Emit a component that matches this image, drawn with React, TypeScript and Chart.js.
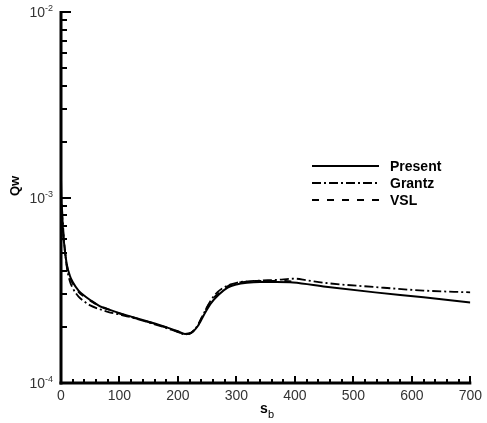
import React, { useEffect, useRef } from 'react';
import { Chart, registerables } from 'chart.js';

Chart.register(...registerables);

// ---- data (s_b, Qw) ----
const presentS = [0, 1, 3, 6, 10, 15, 20, 30, 40, 50, 66, 80, 100, 120, 150, 180, 200, 212, 222, 234, 245, 256, 270, 285, 300, 318, 340, 369, 397, 453, 537, 620, 700];
const presentQ = [12.5e-4, 9.0e-4, 6.8e-4, 5.4e-4, 4.35e-4, 3.8e-4, 3.5e-4, 3.15e-4, 2.95e-4, 2.8e-4, 2.6e-4, 2.5e-4, 2.38e-4, 2.28e-4, 2.14e-4, 2.0e-4, 1.9e-4, 1.84e-4, 1.86e-4, 2.03e-4, 2.35e-4, 2.68e-4, 3.0e-4, 3.27e-4, 3.4e-4, 3.47e-4, 3.5e-4, 3.5e-4, 3.48e-4, 3.3e-4, 3.08e-4, 2.9e-4, 2.72e-4];

const grantzS = [2, 5, 10, 15, 20, 30, 40, 50, 66, 80, 100, 120, 150, 180, 200, 212, 222, 234, 245, 256, 268, 285, 300, 330, 370, 400, 420, 453, 537, 620, 700];
const grantzQ = [8.5e-4, 6.0e-4, 4.2e-4, 3.55e-4, 3.25e-4, 2.92e-4, 2.75e-4, 2.62e-4, 2.5e-4, 2.42e-4, 2.34e-4, 2.26e-4, 2.12e-4, 1.98e-4, 1.88e-4, 1.83e-4, 1.86e-4, 2.05e-4, 2.4e-4, 2.78e-4, 3.1e-4, 3.35e-4, 3.47e-4, 3.55e-4, 3.6e-4, 3.65e-4, 3.58e-4, 3.46e-4, 3.29e-4, 3.15e-4, 3.08e-4];

const vslS = [1, 3, 6, 10, 15, 20, 30, 40, 50, 66, 80, 100, 120, 150, 180, 200, 212, 222, 234, 245, 256, 270, 285, 300, 318, 340, 369, 400];
const vslQ = [9.2e-4, 6.9e-4, 5.4e-4, 4.3e-4, 3.75e-4, 3.45e-4, 3.1e-4, 2.92e-4, 2.78e-4, 2.6e-4, 2.5e-4, 2.37e-4, 2.27e-4, 2.13e-4, 1.99e-4, 1.89e-4, 1.83e-4, 1.86e-4, 2.05e-4, 2.4e-4, 2.75e-4, 3.05e-4, 3.32e-4, 3.45e-4, 3.52e-4, 3.55e-4, 3.55e-4, 3.52e-4];

const seriesLabels = ['Present', 'Grantz', 'VSL'];
const xTickValues = [0, 100, 200, 300, 400, 500, 600, 700];
const yTickValues = [1e-4, 1e-3, 1e-2];
const yTickBase = '10';
const yTickExponents = ['-4', '-3', '-2'];

const FONT = "Arial, 'Liberation Sans', sans-serif";

const toPts = (xs: number[], ys: number[]) => xs.map((s, i) => ({ x: s, y: ys[i] }));

const decorPlugin = {
  id: 'decor',
  afterDraw(chart: any) {
    const { ctx, chartArea, scales } = chart;
    const { left, right, top, bottom } = chartArea;
    const xs = scales.x;
    const ys = scales.y;
    ctx.save();
    ctx.strokeStyle = '#000';
    ctx.fillStyle = '#000';
    ctx.lineCap = 'butt';

    // y ticks (inward)
    ctx.lineWidth = 2;
    for (let d = -4; d <= -2; d++) {
      for (let m = 1; m < 10; m++) {
        if (d === -2 && m > 1) break;
        const v = m * Math.pow(10, d);
        const py = Math.round(ys.getPixelForValue(v));
        const len = m === 1 ? 10 : 6;
        ctx.beginPath();
        ctx.moveTo(left, py);
        ctx.lineTo(left + len, py);
        ctx.stroke();
      }
    }
    // x ticks (inward)
    for (let s = 0; s <= 700; s += 20) {
      const px = Math.round(xs.getPixelForValue(s));
      const len = s % 100 === 0 ? 7 : 4;
      ctx.beginPath();
      ctx.moveTo(px, bottom);
      ctx.lineTo(px, bottom - len);
      ctx.stroke();
    }
    // axis lines
    ctx.lineWidth = 3;
    ctx.beginPath();
    ctx.moveTo(left, top - 1);
    ctx.lineTo(left, bottom + 1.5);
    ctx.stroke();
    ctx.beginPath();
    ctx.moveTo(left - 1.5, bottom);
    ctx.lineTo(right + 1, bottom);
    ctx.stroke();

    // y tick labels: 10 with superscript exponent
    ctx.fillStyle = '#333';
    yTickValues.forEach((v, i) => {
      const py = ys.getPixelForValue(v);
      const exp = yTickExponents[i];
      ctx.font = `9px ${FONT}`;
      const ew = ctx.measureText(exp).width;
      ctx.textAlign = 'right';
      ctx.textBaseline = 'alphabetic';
      const rx = left - 8;
      ctx.fillText(exp, rx, py - 1);
      ctx.font = `14px ${FONT}`;
      ctx.fillText(yTickBase, rx - ew, py + 5);
    });
    ctx.fillStyle = '#000';

    // y title "Qw"
    ctx.save();
    ctx.translate(19, 186);
    ctx.rotate(-Math.PI / 2);
    ctx.font = `bold 13px ${FONT}`;
    ctx.textAlign = 'center';
    ctx.textBaseline = 'alphabetic';
    ctx.fillText('Qw', 0, 0);
    ctx.restore();

    // x title "s_b"
    ctx.font = `bold 14px ${FONT}`;
    ctx.textAlign = 'left';
    ctx.textBaseline = 'alphabetic';
    ctx.fillText('s', 260, 413);
    ctx.font = `11px ${FONT}`;
    ctx.fillText('b', 268, 418);

    // legend
    const dsets = chart.data.datasets;
    const rowsY = [166, 183, 200];
    dsets.forEach((ds: any, i: number) => {
      ctx.lineWidth = 2;
      ctx.setLineDash(ds.borderDash || []);
      ctx.beginPath();
      ctx.moveTo(312, rowsY[i]);
      ctx.lineTo(379, rowsY[i]);
      ctx.stroke();
      ctx.setLineDash([]);
      ctx.font = `bold 14px ${FONT}`;
      ctx.textBaseline = 'middle';
      ctx.fillText(ds.label, 390, rowsY[i] + 1);
    });
    ctx.restore();
  },
};

export default function App() {
  const ref = useRef<HTMLCanvasElement | null>(null);
  useEffect(() => {
    document.body.style.margin = '0';
    const canvas = ref.current;
    if (!canvas) return;
    const chart = new Chart(canvas, {
      type: 'scatter',
      data: {
        datasets: [
          {
            label: seriesLabels[0],
            data: toPts(presentS, presentQ),
            showLine: true,
            borderColor: '#000',
            borderWidth: 2,
            pointRadius: 0,
            cubicInterpolationMode: 'monotone',
          },
          {
            label: seriesLabels[1],
            data: toPts(grantzS, grantzQ),
            showLine: true,
            borderColor: '#000',
            borderWidth: 1.8,
            borderDash: [9, 3, 2, 3],
            pointRadius: 0,
            cubicInterpolationMode: 'monotone',
          },
          {
            label: seriesLabels[2],
            data: toPts(vslS, vslQ),
            showLine: true,
            borderColor: '#000',
            borderWidth: 2,
            borderDash: [7, 8],
            pointRadius: 0,
            cubicInterpolationMode: 'monotone',
          },
        ],
      },
      options: {
        responsive: false,
        animation: false,
        devicePixelRatio: 1,
        layout: { padding: { left: 0, right: 10, top: 12, bottom: 0 } },
        plugins: { legend: { display: false }, tooltip: { enabled: false } },
        scales: {
          x: {
            type: 'linear',
            min: 0,
            max: 700,
            grid: { display: false, drawTicks: false },
            border: { display: false },
            afterBuildTicks: (s: any) => {
              s.ticks = xTickValues.map((v) => ({ value: v }));
            },
            afterFit: (s: any) => {
              s.height = 40;
            },
            ticks: {
              padding: 5,
              color: '#333',
              font: { family: FONT, size: 14 },
              maxRotation: 0,
              callback: (v: any) => String(v),
            },
          },
          y: {
            type: 'logarithmic',
            min: 1e-4,
            max: 1e-2,
            grid: { display: false, drawTicks: false },
            border: { display: false },
            afterBuildTicks: (s: any) => {
              s.ticks = yTickValues.map((v) => ({ value: v }));
            },
            afterFit: (s: any) => {
              s.width = 61;
            },
            ticks: { display: false },
          },
        },
      },
      plugins: [decorPlugin],
    } as any);
    return () => chart.destroy();
  }, []);
  return (
    <div style={{ position: 'absolute', left: 0, top: 0, width: 487, height: 423, background: '#fff' }}>
      <canvas ref={ref} width={487} height={423} style={{ display: 'block' }} />
    </div>
  );
}
